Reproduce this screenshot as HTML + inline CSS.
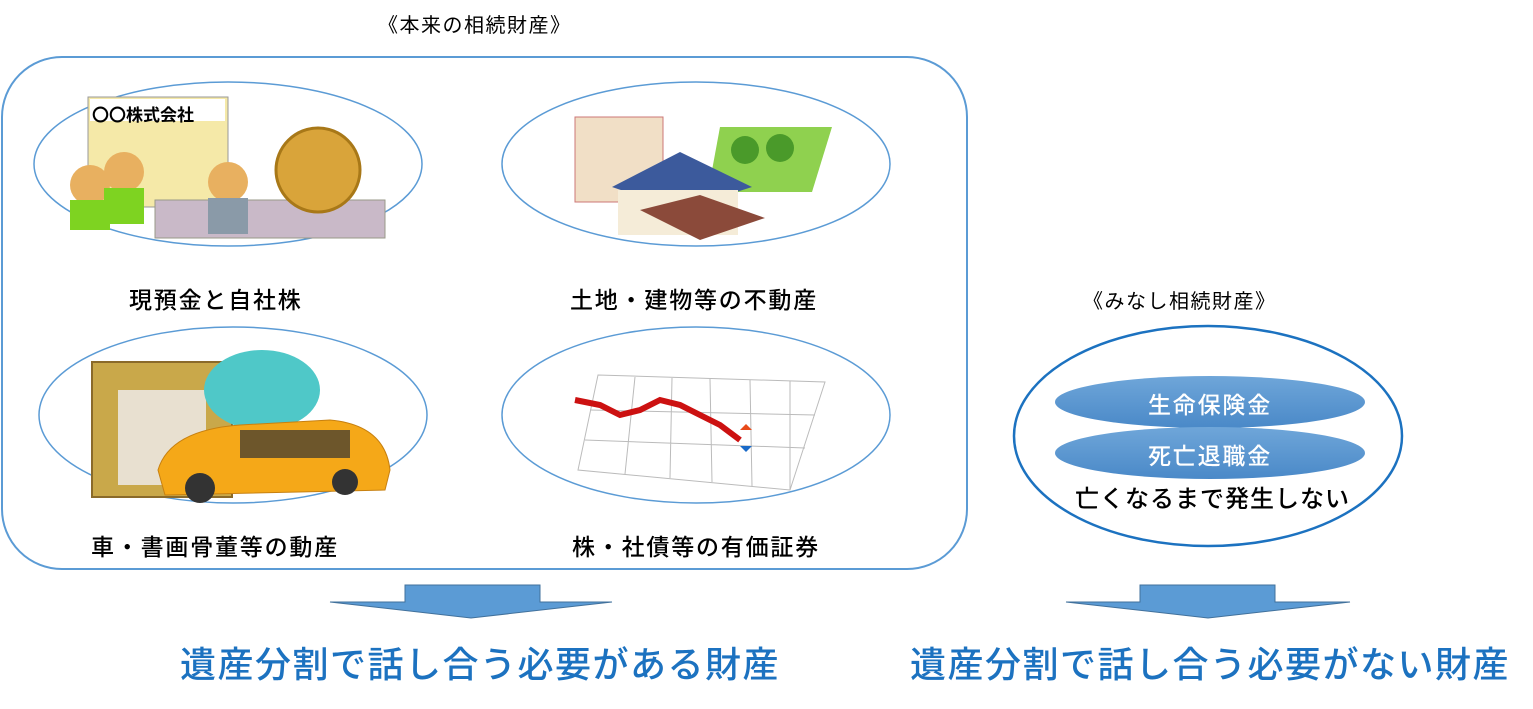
<!DOCTYPE html>
<html><head><meta charset="utf-8"><style>
body{margin:0;width:1533px;height:709px;background:#fff;overflow:hidden;position:relative;font-family:"Liberation Sans","Noto Sans CJK JP",sans-serif}
.t{position:absolute;white-space:nowrap;color:#000}
.l{font-size:23px;letter-spacing:1.8px;font-weight:500}
</style></head><body>
<svg width="1533" height="709" style="position:absolute;left:0;top:0">
<defs><linearGradient id="g" x1="0" y1="0" x2="0" y2="1"><stop offset="0" stop-color="#6fa6d9"/><stop offset="1" stop-color="#4a89c8"/></linearGradient></defs>
<rect x="2" y="57" width="965" height="512" rx="60" fill="none" stroke="#5b9bd5" stroke-width="2"/>
<ellipse cx="228" cy="164" rx="194" ry="82" fill="none" stroke="#5b9bd5" stroke-width="1.5"/>
<ellipse cx="696" cy="164" rx="194" ry="82" fill="none" stroke="#5b9bd5" stroke-width="1.5"/>
<ellipse cx="233" cy="415" rx="194" ry="88" fill="none" stroke="#5b9bd5" stroke-width="1.5"/>
<ellipse cx="696" cy="415" rx="194" ry="88" fill="none" stroke="#5b9bd5" stroke-width="1.5"/>
<rect x="88" y="97" width="140" height="110" fill="#f5e9a8" stroke="#999"/>
<rect x="90" y="99" width="135" height="22" fill="#fff"/>
<rect x="155" y="200" width="230" height="38" fill="#c9b9c8" stroke="#998"/>
<circle cx="318" cy="170" r="42" fill="#d9a43a" stroke="#a87818" stroke-width="3"/>
<circle cx="90" cy="185" r="20" fill="#e8b060"/><rect x="70" y="200" width="40" height="30" fill="#7ed321"/>
<circle cx="124" cy="172" r="20" fill="#e8b060"/><rect x="104" y="188" width="40" height="36" fill="#7ed321"/>
<circle cx="228" cy="182" r="20" fill="#e8b060"/><rect x="208" y="198" width="40" height="36" fill="#8a9aa8"/>
<rect x="575" y="117" width="88" height="85" fill="#f1dfc6" stroke="#c77"/>
<polygon points="720,127 832,127 812,192 708,192" fill="#8fd14f"/>
<circle cx="745" cy="150" r="14" fill="#4a9a2a"/><circle cx="780" cy="148" r="14" fill="#4a9a2a"/>
<polygon points="612,187 680,152 752,187 680,210" fill="#3c5a9c"/>
<rect x="618" y="190" width="120" height="45" fill="#f5ecd8"/>
<polygon points="640,210 700,195 765,218 700,240" fill="#8b4a3a"/>
<rect x="92" y="362" width="140" height="135" fill="#c9a84a" stroke="#8a6a2a" stroke-width="2"/>
<rect x="118" y="390" width="88" height="95" fill="#e8e0d0"/>
<ellipse cx="262" cy="390" rx="58" ry="40" fill="#4fc8c8"/>
<path d="M158 470 Q170 430 240 425 L330 420 Q385 425 390 470 L385 490 L165 495 Z" fill="#f5a818" stroke="#c78010"/>
<rect x="240" y="430" width="110" height="28" fill="#333" opacity=".7"/>
<circle cx="200" cy="488" r="15" fill="#333"/><circle cx="345" cy="482" r="13" fill="#333"/>
<g stroke="#bbb" fill="none">
<path d="M598 375 L825 382 L790 490 L578 470 Z"/>
<path d="M635 377 L625 474 M672 378 L670 478 M710 379 L712 482 M750 380 L752 486 M790 381 L790 490 M590 410 L815 415 M585 440 L805 448"/>
</g>
<path d="M575 400 L600 405 L620 415 L640 410 L660 400 L680 405 L700 415 L720 425 L740 440" stroke="#cc1111" stroke-width="6" fill="none"/>
<polygon points="740,430 746,424 752,430" fill="#e84a1a"/><polygon points="740,446 752,446 746,452" fill="#1a6ac8"/>
<ellipse cx="1208" cy="436" rx="194" ry="110" fill="none" stroke="#1c72c0" stroke-width="2.5"/>
<ellipse cx="1210" cy="402" rx="155" ry="26" fill="url(#g)"/>
<ellipse cx="1210" cy="453" rx="155" ry="26" fill="url(#g)"/>
<polygon points="405,585 540,585 540,602 612,602 471,618 330,602 405,602" fill="#5b9bd5" stroke="#41719c"/>
<polygon points="1140,585 1275,585 1275,602 1350,602 1208,618 1066,602 1140,602" fill="#5b9bd5" stroke="#41719c"/>
</svg>
<div class="t" style="left:92px;top:101px;font-size:17px;font-weight:bold">〇〇株式会社</div>
<div class="t" style="left:378px;top:9px;font-size:20px;letter-spacing:1.5px">《本来の相続財産》</div>
<div class="t l" style="left:129px;top:281px">現預金と自社株</div>
<div class="t l" style="left:570px;top:281px">土地・建物等の不動産</div>
<div class="t l" style="left:91px;top:528px">車・書画骨董等の動産</div>
<div class="t l" style="left:572px;top:528px">株・社債等の有価証券</div>
<div class="t" style="left:1083px;top:285px;font-size:20px;letter-spacing:1.5px">《みなし相続財産》</div>
<div class="t" style="left:1148px;top:386px;font-size:23px;letter-spacing:1.8px;color:#fff;font-weight:500">生命保険金</div>
<div class="t" style="left:1148px;top:437px;font-size:23px;letter-spacing:1.8px;color:#fff;font-weight:500">死亡退職金</div>
<div class="t" style="left:1075px;top:479px;font-size:24px;letter-spacing:1px;font-weight:500">亡くなるまで発生しない</div>
<div class="t" style="left:180px;top:636px;font-size:36px;letter-spacing:1.5px;color:#1c72c0;font-weight:500">遺産分割で話し合う必要がある財産</div>
<div class="t" style="left:910px;top:636px;font-size:36px;letter-spacing:1.5px;color:#1c72c0;font-weight:500">遺産分割で話し合う必要がない財産</div>
</body></html>
